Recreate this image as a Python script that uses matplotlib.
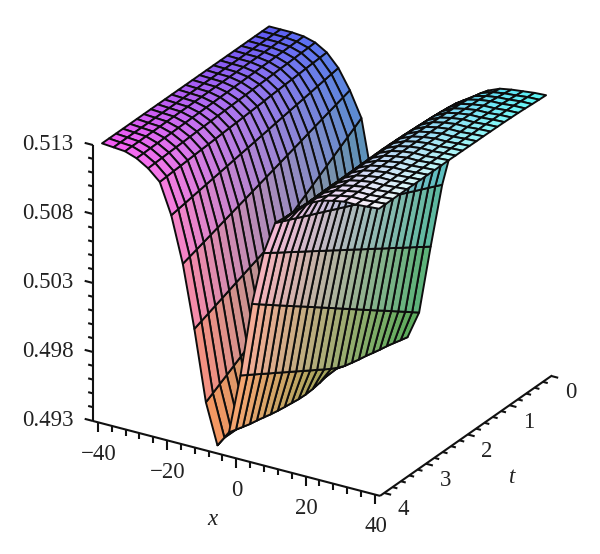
import numpy as np
import matplotlib
matplotlib.use('Agg')
import matplotlib.pyplot as plt
from mpl_toolkits.mplot3d import proj3d

# malha da superficie
x_vals = [-40.0, -36.67, -33.33, -30.0, -26.67, -23.33, -20.0, -16.67, -13.33, -10.0, -6.67, -3.33, 0.0,
          3.33, 6.67, 10.0, 13.33, 16.67, 20.0, 23.33, 26.67, 30.0, 33.33, 36.67, 40.0]
t_vals = [4.0, 3.833, 3.667, 3.5, 3.333, 3.167, 3.0, 2.833, 2.667, 2.5, 2.333, 2.167, 2.0,
          1.833, 1.667, 1.5, 1.333, 1.167, 1.0, 0.833, 0.667, 0.5, 0.333, 0.167, 0.0]

# valores, em unidades de 1e-5: uma linha por x, de t=4 ate t=0
z_e5 = [
    [51300, 51300, 51300, 51300, 51300, 51300, 51300, 51300, 51300, 51300, 51300, 51300, 51300, 51300, 51300, 51300, 51300, 51300, 51300, 51300, 51300, 51300, 51300, 51300, 51300],
    [51293, 51293, 51294, 51294, 51294, 51294, 51295, 51295, 51295, 51295, 51296, 51296, 51296, 51297, 51297, 51297, 51298, 51298, 51298, 51298, 51299, 51299, 51299, 51300, 51300],
    [51286, 51287, 51287, 51288, 51288, 51289, 51290, 51290, 51291, 51291, 51292, 51292, 51293, 51294, 51294, 51295, 51295, 51296, 51297, 51297, 51298, 51298, 51299, 51299, 51300],
    [51257, 51258, 51260, 51261, 51263, 51264, 51266, 51267, 51269, 51270, 51272, 51273, 51275, 51276, 51278, 51279, 51281, 51282, 51284, 51285, 51287, 51288, 51290, 51291, 51293],
    [51206, 51209, 51211, 51214, 51217, 51219, 51222, 51225, 51227, 51230, 51233, 51235, 51238, 51241, 51243, 51246, 51249, 51251, 51254, 51257, 51259, 51262, 51265, 51267, 51270],
    [51130, 51134, 51138, 51141, 51145, 51149, 51153, 51156, 51160, 51164, 51168, 51171, 51175, 51179, 51183, 51186, 51190, 51194, 51198, 51201, 51205, 51209, 51213, 51216, 51220],
    [50910, 50919, 50928, 50938, 50947, 50956, 50965, 50974, 50983, 50993, 51002, 51011, 51020, 51029, 51038, 51048, 51057, 51066, 51075, 51084, 51093, 51103, 51112, 51121, 51130],
    [50580, 50597, 50614, 50631, 50648, 50665, 50683, 50700, 50717, 50734, 50751, 50768, 50785, 50802, 50819, 50836, 50853, 50870, 50888, 50905, 50922, 50939, 50956, 50973, 50990],
    [50130, 50151, 50171, 50192, 50212, 50233, 50254, 50274, 50295, 50315, 50336, 50368, 50402, 50436, 50470, 50504, 50538, 50572, 50606, 50640, 50674, 50708, 50742, 50776, 50810],
    [49620, 49651, 49682, 49712, 49743, 49774, 49805, 49836, 49867, 49897, 49928, 49959, 49990, 50021, 50052, 50082, 50113, 50144, 50175, 50206, 50237, 50267, 50298, 50329, 50360],
    [49330, 49350, 49369, 49389, 49408, 49428, 49448, 49467, 49487, 49506, 49526, 49545, 49565, 49585, 49604, 49624, 49643, 49663, 49683, 49702, 49722, 49741, 49761, 49780, 49800],
    [49445, 49430, 49415, 49400, 49390, 49378, 49365, 49355, 49347, 49340, 49333, 49331, 49335, 49345, 49357, 49370, 49383, 49397, 49410, 49423, 49437, 49450, 49467, 49483, 49500],
    [49880, 49848, 49817, 49785, 49753, 49722, 49690, 49658, 49627, 49595, 49563, 49532, 49500, 49469, 49442, 49420, 49407, 49395, 49385, 49372, 49360, 49350, 49337, 49323, 49310],
    [50420, 50382, 50344, 50306, 50268, 50230, 50192, 50155, 50117, 50079, 50041, 50003, 49965, 49927, 49889, 49851, 49813, 49775, 49737, 49700, 49662, 49624, 49586, 49548, 49510],
    [50810, 50777, 50743, 50710, 50677, 50643, 50610, 50577, 50543, 50510, 50477, 50443, 50410, 50377, 50343, 50310, 50277, 50243, 50210, 50177, 50143, 50110, 50077, 50043, 50010],
    [51050, 51026, 51003, 50979, 50955, 50931, 50908, 50884, 50860, 50836, 50813, 50789, 50765, 50741, 50718, 50694, 50670, 50646, 50623, 50599, 50575, 50551, 50528, 50504, 50480],
    [51120, 51117, 51113, 51110, 51107, 51103, 51100, 51097, 51093, 51090, 51074, 51059, 51043, 51028, 51012, 50997, 50981, 50966, 50950, 50928, 50907, 50885, 50863, 50842, 50820],
    [51190, 51191, 51193, 51194, 51195, 51196, 51196, 51197, 51198, 51198, 51199, 51199, 51200, 51199, 51197, 51195, 51192, 51189, 51185, 51182, 51175, 51165, 51145, 51115, 51080],
    [51260, 51261, 51263, 51264, 51265, 51267, 51268, 51269, 51270, 51270, 51270, 51270, 51270, 51269, 51268, 51266, 51263, 51261, 51258, 51254, 51248, 51240, 51225, 51205, 51180],
    [51300, 51301, 51303, 51304, 51305, 51305, 51306, 51306, 51306, 51306, 51306, 51306, 51306, 51305, 51305, 51304, 51303, 51301, 51300, 51297, 51294, 51290, 51280, 51267, 51250],
    [51320, 51321, 51321, 51322, 51323, 51323, 51324, 51324, 51324, 51324, 51324, 51324, 51324, 51323, 51323, 51322, 51321, 51320, 51318, 51315, 51313, 51310, 51303, 51295, 51285],
    [51336, 51336, 51336, 51336, 51336, 51336, 51336, 51336, 51336, 51336, 51335, 51335, 51335, 51334, 51334, 51333, 51333, 51332, 51330, 51328, 51325, 51322, 51315, 51308, 51300],
    [51336, 51336, 51336, 51336, 51336, 51336, 51336, 51336, 51336, 51336, 51335, 51335, 51335, 51334, 51334, 51333, 51333, 51332, 51331, 51329, 51327, 51325, 51320, 51315, 51310],
    [51343, 51343, 51343, 51343, 51343, 51343, 51343, 51343, 51343, 51343, 51342, 51342, 51342, 51341, 51341, 51340, 51340, 51339, 51338, 51337, 51335, 51333, 51329, 51325, 51320],
    [51350, 51350, 51350, 51350, 51350, 51349, 51349, 51349, 51348, 51348, 51348, 51347, 51347, 51346, 51345, 51345, 51344, 51343, 51342, 51340, 51338, 51335, 51331, 51328, 51325],
]

# marcas dos eixos
x_major = [-40, -20, 0, 20, 40]
x_minor = [-36, -32, -28, -24, -16, -12, -8, -4, 4, 8, 12, 16, 24, 28, 32, 36]
t_major = [0, 1, 2, 3, 4]
t_minor = [0.2, 0.4, 0.6, 0.8, 1.2, 1.4, 1.6, 1.8, 2.2, 2.4, 2.6, 2.8, 3.2, 3.4, 3.6, 3.8]
z_major = [0.493, 0.498, 0.503, 0.508, 0.513]
z_minor = [0.494, 0.495, 0.496, 0.497, 0.499, 0.500, 0.501, 0.502, 0.504, 0.505, 0.506, 0.507,
           0.509, 0.510, 0.511, 0.512]
x_labels = ['\u221240', '\u221220', '0', '20', '40']
t_labels = ['0', '1', '2', '3', '4']
z_labels = ['0.493', '0.498', '0.503', '0.508', '0.513']

x_lim = (-41.4, 41.5)
t_lim = (4.1, -0.02)
z_lim = (0.493, 0.513)

# canto dos eixos na imagem de referencia (pixels, y a partir do topo)
CANTO_PX = (93.0, 421.0)
LARGURA, ALTURA = 600, 554

plt.rcParams['font.family'] = ['Liberation Serif', 'DejaVu Serif']
FONTE = 16.5

fig = plt.figure(figsize=(LARGURA / 100, ALTURA / 100), dpi=100, facecolor='white')
ax = fig.add_axes([0, 0, 1, 1], projection='3d', proj_type='ortho', computed_zorder=False)
ax.view_init(elev=25.3, azim=-58.6)
ax.set_box_aspect((336, 330, 305), zoom=0.984)
ax.set_xlim(*x_lim)
ax.set_ylim(*t_lim)
ax.set_zlim(*z_lim)
ax.set_axis_off()
ax.patch.set_alpha(0)

X, T = np.meshgrid(np.array(x_vals), np.array(t_vals))
Z = np.array(z_e5).T / 1e5

# cor pela posicao: vermelho com t, verde com x, azul com z
z_min, z_max = Z.min(), Z.max()


def media_celula(m):
    c = (m[:-1, :-1] + m[1:, :-1] + m[:-1, 1:] + m[1:, 1:]) / 4
    return np.pad(c, ((0, 1), (0, 1)), mode='edge')


r = 0.35 + 0.62 * media_celula(T) / 4
g = 0.35 + 0.62 * (media_celula(X) + 40) / 80
b = 0.33 + 0.64 * (media_celula(Z) - z_min) / (z_max - z_min)
cores = np.dstack([r, g, b, np.ones_like(r)])

ax.plot_surface(X, T, Z, rstride=1, cstride=1, facecolors=cores, edgecolor='#0d0d0d',
                linewidth=1.4, shade=False, antialiased=True, zorder=1)

kw = dict(color='#111111', lw=1.5, clip_on=False, zorder=2, solid_capstyle='butt')

# linhas dos eixos
ax.plot(x_lim, [t_lim[0]] * 2, [z_lim[0]] * 2, **kw)
ax.plot([x_lim[1]] * 2, t_lim, [z_lim[0]] * 2, **kw)
ax.plot([x_lim[0]] * 2, [t_lim[0]] * 2, z_lim, **kw)

# tracinhos
for v, tam in [(x_major, 0.0007), (x_minor, 0.00045)]:
    for p in v:
        ax.plot([p, p], [t_lim[0]] * 2, [z_lim[0], z_lim[0] - tam], **kw)
for v, tam in [(t_major, 2.0), (t_minor, 1.4)]:
    for p in v:
        ax.plot([x_lim[1], x_lim[1] + tam], [p, p], [z_lim[0]] * 2, **kw)
for v, tam in [(z_major, 2.4), (z_minor, 1.4)]:
    for p in v:
        ax.plot([x_lim[0], x_lim[0] - tam], [t_lim[0]] * 2, [p, p], **kw)

# acerta a posicao do eixo para o canto cair no pixel certo
fig.canvas.draw()


def para_pixel(x, t, z):
    px, py, _ = proj3d.proj_transform(x, t, z, ax.get_proj())
    return ax.transData.transform((px, py))


atual = para_pixel(x_lim[0], t_lim[0], z_lim[0])
dx = (CANTO_PX[0] - atual[0]) / LARGURA
dy = ((ALTURA - CANTO_PX[1]) - atual[1]) / ALTURA
ax.set_position([dx, dy, 1, 1])
fig.canvas.draw()


# textos em 2D, no lugar projetado de cada marca
def rotulo(x, t, z, s, **extra):
    p = para_pixel(x, t, z)
    fig.text(p[0] / LARGURA, p[1] / ALTURA, s, ha='center', va='center', fontsize=FONTE,
             color='#222222', **extra)


for p, s in zip(x_major, x_labels):
    rotulo(p + 0.2, t_lim[0], z_lim[0] - 0.0023, s)
for p, s in zip(t_major, t_labels):
    rotulo(x_lim[1] + 5.6, p, z_lim[0] - 0.00085, s)
for p, s in zip(z_major, z_labels):
    rotulo(x_lim[0] - 13.0, t_lim[0], p - 0.0008, s)

# nomes dos eixos
rotulo(-7, t_lim[0], z_lim[0] - 0.0049, 'x', style='italic')
rotulo(x_lim[1] + 6, 1.44, z_lim[0] - 0.0039, 't', style='italic')

fig.savefig('out.png', dpi=100, facecolor='white')
